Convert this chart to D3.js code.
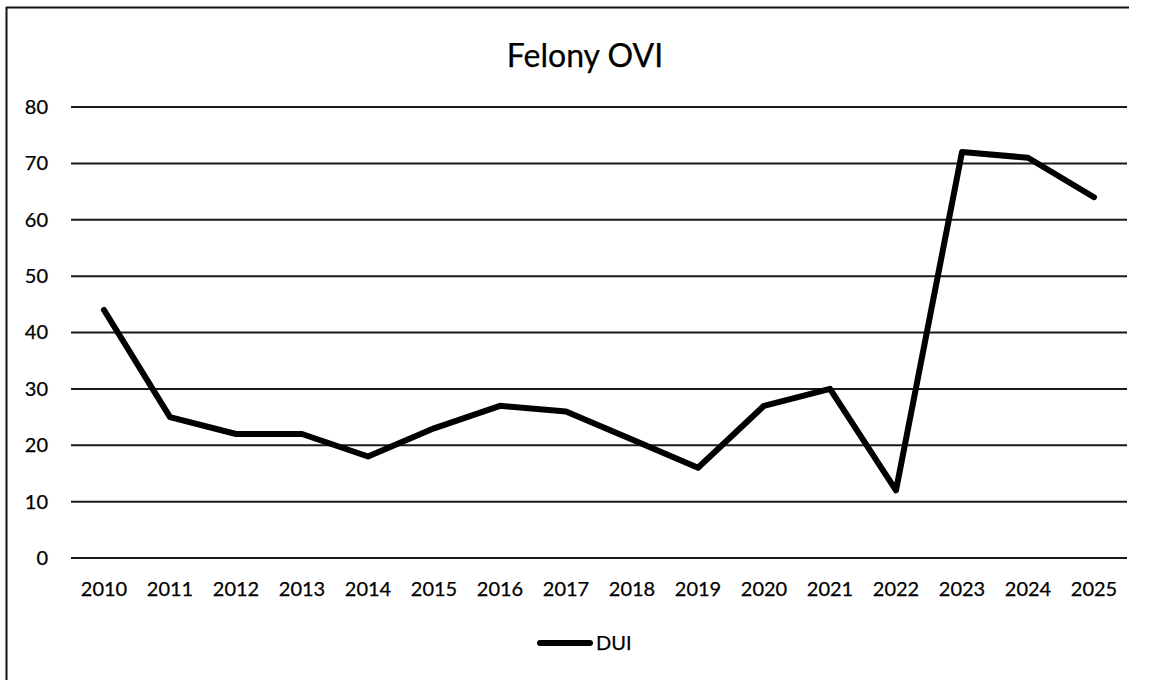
<!DOCTYPE html>
<html>
<head>
<meta charset="utf-8">
<script src="https://cdn.jsdelivr.net/npm/d3@7"></script>
<style>
  body { margin: 0; background: #fff; }
  svg text { font-family: Lato, "Open Sans", sans-serif; fill: #000; stroke: #000; stroke-width: 0.25px; }
</style>
</head>
<body>
<div id="chart"></div>
<script>
// Felony OVI counts by year
var years = ["2010","2011","2012","2013","2014","2015","2016","2017","2018","2019","2020","2021","2022","2023","2024","2025"];
var dui = [44, 25, 22, 22, 18, 23, 27, 26, 21, 16, 27, 30, 12, 72, 71, 64];
var yTicks = [0, 10, 20, 30, 40, 50, 60, 70, 80];
var seriesName = "DUI";
var chartTitle = "Felony OVI";

var width = 1151, height = 680;
var margin = { top: 107, left: 71, right: 24, bottom: 122 };

var svg = d3.select("#chart").append("svg")
    .attr("width", width)
    .attr("height", height);

// frame (left + top only, as in the scan)
svg.append("line")
    .attr("x1", 6.5).attr("x2", 6.5).attr("y1", 7).attr("y2", height)
    .attr("stroke", "#111").attr("stroke-width", 2);
svg.append("line")
    .attr("x1", 6).attr("x2", 1129).attr("y1", 7.5).attr("y2", 7.5)
    .attr("stroke", "#111").attr("stroke-width", 2);

var w = width - margin.left - margin.right;
var h = height - margin.top - margin.bottom;

var g = svg.append("g")
    .attr("transform", "translate(" + margin.left + "," + margin.top + ")");

var x = d3.scaleBand().domain(years).range([0, w]);
var y = d3.scaleLinear().domain([0, 80]).range([h, 0]);

// title
svg.append("text")
    .attr("x", 585)
    .attr("y", 67)
    .attr("text-anchor", "middle")
    .style("font-size", "32px")
    .text(chartTitle);

// gridlines
g.selectAll(".grid")
    .data(yTicks)
    .enter().append("line")
    .attr("class", "grid")
    .attr("x1", 0).attr("x2", w)
    .attr("y1", function(d) { return y(d); })
    .attr("y2", function(d) { return y(d); })
    .attr("stroke", "#1a1a1a")
    .attr("stroke-width", 2);

// y axis labels
var yAxis = d3.axisLeft(y).tickValues(yTicks).tickSize(0).tickPadding(23);
g.append("g").call(yAxis)
    .call(function(s) { s.select(".domain").remove(); })
    .selectAll("text")
    .style("font-size", "20px")
    .style("font-family", "Lato, sans-serif");

// x axis labels
var xAxis = d3.axisBottom(x).tickSize(0).tickPadding(24);
g.append("g")
    .attr("transform", "translate(0," + h + ")")
    .call(xAxis)
    .call(function(s) { s.select(".domain").remove(); })
    .selectAll("text")
    .style("font-size", "20px")
    .style("font-family", "Lato, sans-serif");

// the line
var line = d3.line()
    .x(function(d, i) { return x(years[i]) + x.bandwidth() / 2; })
    .y(function(d) { return y(d); });

g.append("path")
    .datum(dui)
    .attr("d", line)
    .attr("fill", "none")
    .attr("stroke", "#000")
    .attr("stroke-width", 6)
    .attr("stroke-linejoin", "round")
    .attr("stroke-linecap", "round");

// legend
var legend = svg.append("g").attr("transform", "translate(540,643)");
legend.append("line")
    .attr("x1", 0).attr("x2", 50).attr("y1", 0).attr("y2", 0)
    .attr("stroke", "#000").attr("stroke-width", 6)
    .attr("stroke-linecap", "round");
legend.append("text")
    .attr("x", 56).attr("y", 7)
    .style("font-size", "20px")
    .text(seriesName);
</script>
</body>
</html>
